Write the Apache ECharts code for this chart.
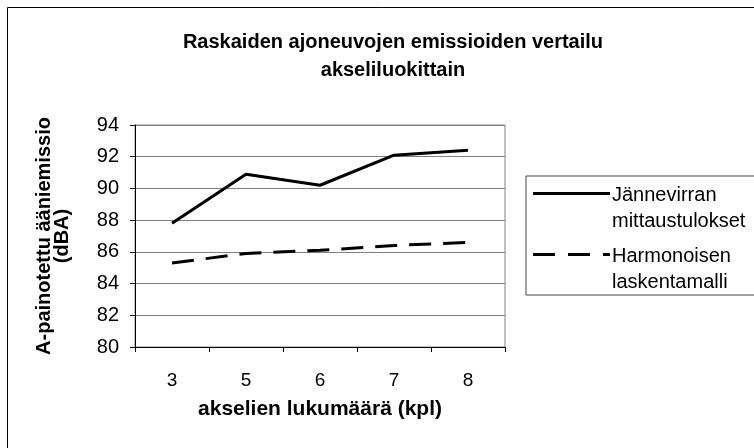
<!DOCTYPE html>
<html>
<head>
<meta charset="utf-8">
<script src="https://cdn.jsdelivr.net/npm/echarts@6/dist/echarts.min.js"></script>
<style>
html,body{margin:0;padding:0;background:#fff;}
#c{width:754px;height:448px;}
</style>
</head>
<body>
<div id="c"></div>
<script>
var titleLines = ['Raskaiden ajoneuvojen emissioiden vertailu', 'akseliluokittain'];
var categories = ['3', '5', '6', '7', '8'];
var measured = [87.8, 90.9, 90.2, 92.1, 92.4];
var model = [85.3, 85.9, 86.1, 86.4, 86.6];
var seriesNames = ['Jännevirran\nmittaustulokset', 'Harmonoisen\nlaskentamalli'];
var yMin = 80, yMax = 94, yStep = 2;
var xName = 'akselien lukumäärä (kpl)';
var yName = 'A-painotettu ääniemissio\n(dBA)';

var FONT = '"Liberation Sans", Arial, sans-serif';
var chart = echarts.init(document.getElementById('c'), null, {renderer: 'canvas'});

var legendX = 526, legendY = 176, legendRowH = 61;
var legendGraphics = [{
  type: 'rect', shape: {x: legendX, y: legendY, width: 260, height: 119},
  style: {fill: '#fff', stroke: '#444', lineWidth: 1}, z: 1
}];
seriesNames.forEach(function (nm, i) {
  var y = legendY + 17.5 + i * legendRowH;
  legendGraphics.push({
    type: 'line', shape: {x1: 533, y1: y, x2: 610, y2: y},
    style: {stroke: '#000', lineWidth: 3, lineDash: i === 1 ? [22, 13] : null}, z: 2
  });
  legendGraphics.push({
    type: 'text', x: 612, y: y - 11,
    style: {text: nm, font: '20px ' + FONT, fill: '#000', lineHeight: 26, textVerticalAlign: 'top'}, z: 2
  });
});

var option = {
  animation: false,
  backgroundColor: '#fff',
  title: {
    text: titleLines.join('\n'),
    left: 388, textAlign: 'center', top: 23,
    textStyle: {fontFamily: FONT, fontSize: 20, fontWeight: 'bold', color: '#000', lineHeight: 28}
  },
  grid: {left: 135, right: 249, top: 125, bottom: 101, show: true, borderColor: '#808080', borderWidth: 1},
  xAxis: {
    type: 'category', data: categories, boundaryGap: true,
    name: xName, nameLocation: 'middle', nameGap: 52,
    nameTextStyle: {fontFamily: FONT, fontSize: 21, fontWeight: 'bold', color: '#000'},
    axisLine: {lineStyle: {color: '#000', width: 1}},
    axisTick: {show: true, length: 5, inside: false, lineStyle: {color: '#000'}},
    axisLabel: {fontFamily: FONT, fontSize: 19, color: '#000', margin: 24},
    splitLine: {show: false}
  },
  yAxis: {
    type: 'value', min: yMin, max: yMax, interval: yStep,
    name: yName, nameLocation: 'middle', nameGap: 64, nameRotate: 90,
    nameTextStyle: {fontFamily: FONT, fontSize: 20, fontWeight: 'bold', color: '#000', lineHeight: 18},
    axisLine: {show: true, lineStyle: {color: '#000', width: 1}},
    axisTick: {show: true, length: 5, lineStyle: {color: '#000'}},
    axisLabel: {fontFamily: FONT, fontSize: 20, color: '#000', margin: 16},
    splitLine: {show: true, lineStyle: {color: '#808080', width: 1}}
  },
  series: [{
    name: seriesNames[0], type: 'line', data: measured, symbol: 'none',
    lineStyle: {color: '#000', width: 3}, z: 5
  }, {
    name: seriesNames[1], type: 'line', data: model, symbol: 'none',
    lineStyle: {color: '#000', width: 3, type: [22, 12]}, z: 5
  }],
  graphic: [{
    type: 'rect', shape: {x: 7.5, y: 7.5, width: 800, height: 500},
    style: {fill: 'none', stroke: '#000', lineWidth: 1}, z: -1, silent: true
  }].concat(legendGraphics)
};
chart.setOption(option);
</script>
</body>
</html>
